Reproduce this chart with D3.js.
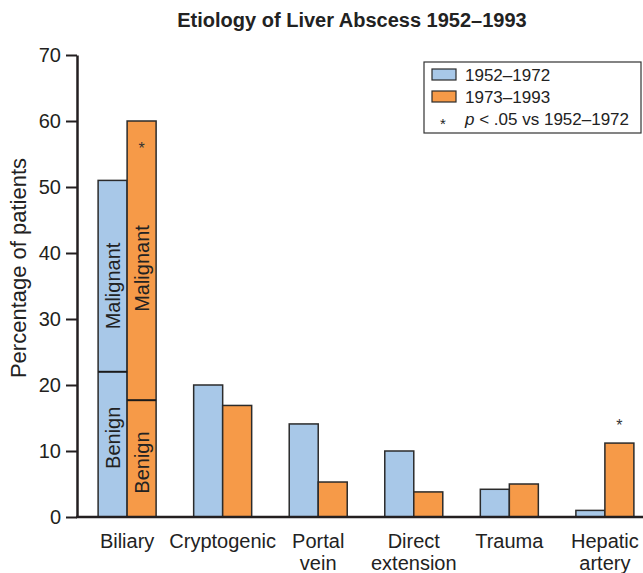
<!DOCTYPE html>
<html>
<head>
<meta charset="utf-8">
<script src="https://cdn.jsdelivr.net/npm/d3@7"></script>
<style>
  body { margin: 0; background: #fff; }
  svg { display: block; font-family: "Liberation Sans", Arial, Helvetica, sans-serif; }
</style>
</head>
<body>
<svg id="chart" width="643" height="573"></svg>
<script>
// Etiology categories (second line of each label where it wraps)
const categories = ["Biliary", "Cryptogenic", "Portal vein", "Direct extension", "Trauma", "Hepatic artery"];
const categoryLines = [["Biliary"], ["Cryptogenic"], ["Portal", "vein"], ["Direct", "extension"], ["Trauma"], ["Hepatic", "artery"]];
const periods = ["1952–1972", "1973–1993"];

// Percentage of patients per period
const values1952 = [51, 20, 14.1, 10, 4.2, 1.0];
const values1973 = [60, 16.9, 5.3, 3.8, 5.0, 11.2];

// Biliary split into benign / malignant
const biliaryBenign = [22, 17.7];

// Significant differences (p < .05 vs 1952–1972)
const significant = ["Biliary", "Hepatic artery"];

const yTicks = [0, 10, 20, 30, 40, 50, 60, 70];

const colors = { "1952–1972": "#a8c8e8", "1973–1993": "#f69a48" };
const stroke = "#2b2b2b";

const svg = d3.select("#chart");

const x = d3.scaleBand()
  .domain(categories)
  .range([79, 653])
  .paddingInner(0.393)
  .paddingOuter(0.2);

const xSub = d3.scaleBand()
  .domain(periods)
  .range([0, x.bandwidth()]);

const y = d3.scaleLinear().domain([0, 70]).range([517, 55]);

const rows = categories.map((c, i) => ({
  cat: c,
  vals: [
    { period: periods[0], v: values1952[i] },
    { period: periods[1], v: values1973[i] }
  ]
}));

// Bars
const groups = svg.append("g").selectAll("g")
  .data(rows)
  .join("g")
  .attr("transform", d => `translate(${x(d.cat)},0)`);

groups.selectAll("rect")
  .data(d => d.vals)
  .join("rect")
  .attr("x", d => xSub(d.period))
  .attr("y", d => y(d.v))
  .attr("width", xSub.bandwidth())
  .attr("height", d => y(0) - y(d.v))
  .attr("fill", d => colors[d.period])
  .attr("stroke", stroke)
  .attr("stroke-width", 1.5);

// Benign / malignant split on the biliary bars
const bx = x("Biliary");
periods.forEach((p, i) => {
  const x0 = bx + xSub(p);
  const x1 = x0 + xSub.bandwidth();
  const total = i === 0 ? values1952[0] : values1973[0];
  const ben = biliaryBenign[i];
  svg.append("line")
    .attr("x1", x0).attr("x2", x1)
    .attr("y1", y(ben)).attr("y2", y(ben))
    .attr("stroke", "#1a1a1a").attr("stroke-width", 2);
  const cx = x0 + xSub.bandwidth() / 2 + 7;
  const labels = [
    { t: "Benign", v: i === 0 ? ben / 2 + 1 : ben / 2 - 0.6 },
    { t: "Malignant", v: i === 0 ? (ben + total) / 2 - 1.5 : (ben + total) / 2 - 1.2 }
  ];
  labels.forEach(l => {
    svg.append("text")
      .attr("transform", `translate(${cx},${y(l.v)}) rotate(-90)`)
      .attr("text-anchor", "middle")
      .attr("font-size", 20)
      .attr("fill", "#222")
      .text(l.t);
  });
});

// Significance markers
svg.append("text")
  .attr("x", bx + xSub(periods[1]) + xSub.bandwidth() / 2)
  .attr("y", y(55))
  .attr("text-anchor", "middle")
  .attr("font-size", 16)
  .attr("fill", "#333")
  .text("*");
const ha = significant[1];
svg.append("text")
  .attr("x", x(ha) + xSub(periods[1]) + xSub.bandwidth() / 2)
  .attr("y", y(13))
  .attr("text-anchor", "middle")
  .attr("font-size", 16)
  .attr("fill", "#333")
  .text("*");

// Y axis
const yAxis = svg.append("g")
  .attr("transform", "translate(77,0)")
  .call(d3.axisLeft(y).tickValues(yTicks).tickSize(11).tickPadding(5).tickSizeOuter(0));
yAxis.select(".domain").attr("stroke", "#231f20").attr("stroke-width", 2.5);
yAxis.selectAll(".tick line").attr("stroke", "#231f20").attr("stroke-width", 2);
yAxis.selectAll(".tick text").attr("font-size", 20).attr("fill", "#231f20")
  .attr("font-family", "Liberation Sans, Arial, sans-serif");

// X baseline
svg.append("line")
  .attr("x1", 76).attr("x2", 643)
  .attr("y1", y(0)).attr("y2", y(0))
  .attr("stroke", "#231f20").attr("stroke-width", 2.5);

// Category labels
const catLabels = svg.append("g").selectAll("text")
  .data(categories)
  .join("text")
  .attr("text-anchor", "middle")
  .attr("font-size", 20)
  .attr("fill", "#222")
  .attr("x", d => x(d) + x.bandwidth() / 2)
  .attr("y", 548);
catLabels.each(function(d, i) {
  const t = d3.select(this);
  categoryLines[i].forEach((ln, j) => {
    t.append("tspan")
      .attr("x", x(d) + x.bandwidth() / 2)
      .attr("dy", j === 0 ? 0 : 22)
      .text(ln);
  });
});

// Y axis title
svg.append("text")
  .attr("transform", "translate(26,268) rotate(-90)")
  .attr("text-anchor", "middle")
  .attr("font-size", 22)
  .attr("fill", "#222")
  .text("Percentage of patients");

// Chart title
svg.append("text")
  .attr("x", 352)
  .attr("y", 27)
  .attr("text-anchor", "middle")
  .attr("font-size", 20)
  .attr("font-weight", "bold")
  .attr("fill", "#222")
  .text("Etiology of Liver Abscess 1952–1993");

// Legend
const lg = svg.append("g");
lg.append("rect")
  .attr("x", 424).attr("y", 62)
  .attr("width", 217).attr("height", 71)
  .attr("fill", "#fff")
  .attr("stroke", "#333").attr("stroke-width", 1.2);
periods.forEach((p, i) => {
  lg.append("rect")
    .attr("x", 432).attr("y", 69 + i * 22)
    .attr("width", 24).attr("height", 11)
    .attr("fill", colors[p])
    .attr("stroke", stroke).attr("stroke-width", 1.2);
  lg.append("text")
    .attr("x", 465).attr("y", 81 + i * 22)
    .attr("font-size", 17)
    .attr("fill", "#222")
    .text(p);
});
lg.append("text")
  .attr("x", 443).attr("y", 129)
  .attr("text-anchor", "middle")
  .attr("font-size", 15)
  .attr("fill", "#222")
  .text("*");
const lt = lg.append("text")
  .attr("x", 465).attr("y", 125)
  .attr("font-size", 17)
  .attr("fill", "#222");
lt.append("tspan").attr("font-style", "italic").text("p");
lt.append("tspan").text(" < .05 vs 1952–1972");
</script>
</body>
</html>
